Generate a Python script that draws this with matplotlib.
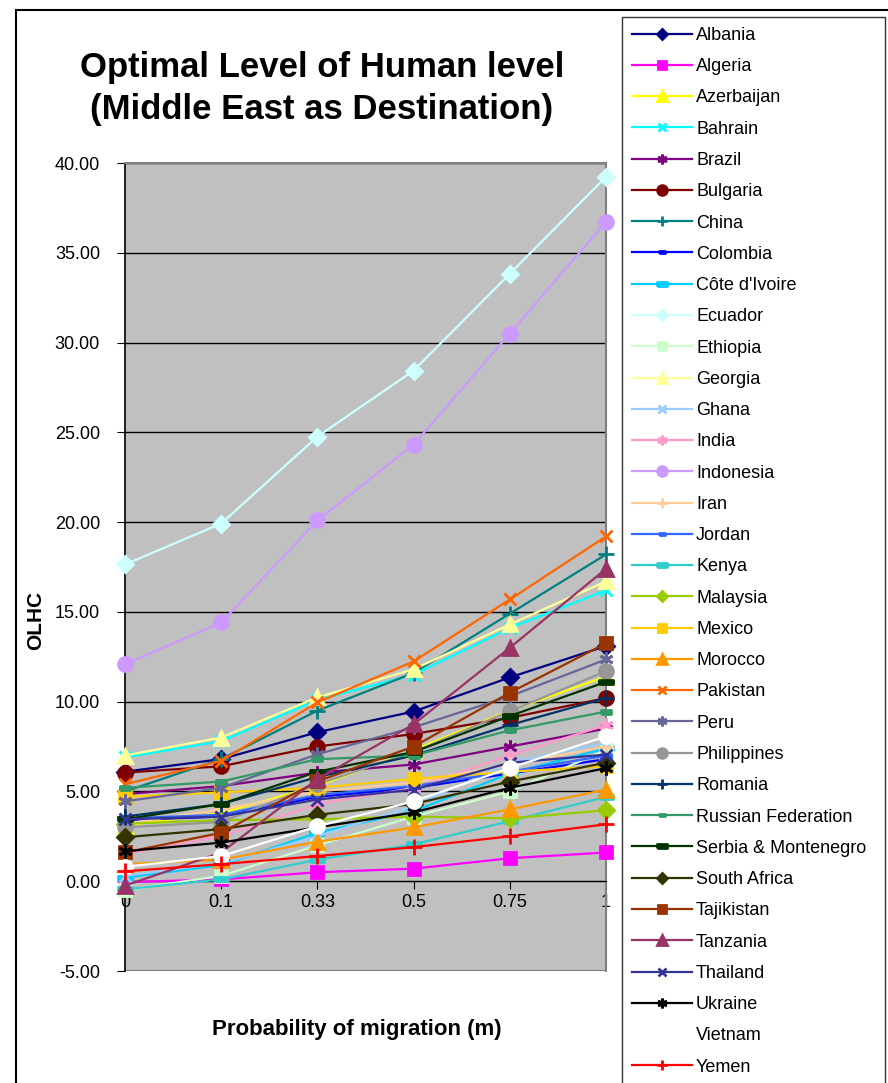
import numpy as np
import matplotlib
matplotlib.use("Agg")
import matplotlib.pyplot as plt
from matplotlib.patches import Rectangle

# # Data
m_labels = ["0", "0.1", "0.33", "0.5", "0.75", "1"]

albania     = [6.10, 6.80, 8.30, 9.45, 11.35, 13.10]
algeria     = [-0.05, 0.10, 0.50, 0.70, 1.28, 1.60]
azerbaijan  = [3.10, 3.80, 5.30, 7.30, 9.50, 11.40]
bahrain     = [6.90, 7.80, 10.10, 11.50, 14.10, 16.20]
brazil      = [4.85, 5.30, 6.05, 6.50, 7.50, 8.50]
bulgaria    = [6.05, 6.40, 7.50, 8.20, 9.10, 10.20]
china       = [5.00, 6.80, 9.50, 11.60, 14.90, 18.20]
colombia    = [3.40, 3.60, 4.70, 5.20, 6.00, 6.80]
cote        = [0.20, 0.90, 2.70, 3.90, 6.00, 7.40]
ecuador     = [17.64, 19.92, 24.76, 28.44, 33.83, 39.23]
ethiopia    = [-0.50, 0.30, 2.00, 3.60, 5.00, 7.30]
georgia     = [7.00, 8.00, 10.24, 11.80, 14.30, 16.70]
ghana       = [0.30, 1.00, 2.50, 4.20, 6.60, 7.70]
india       = [1.50, 2.50, 4.30, 5.20, 7.00, 8.70]
indonesia   = [12.08, 14.41, 20.09, 24.32, 30.50, 36.73]
iran        = [3.20, 4.00, 5.00, 5.50, 6.50, 7.50]
jordan      = [3.50, 3.70, 4.80, 5.30, 6.10, 7.00]
kenya       = [-0.45, 0.10, 1.20, 2.05, 3.35, 4.70]
malaysia    = [3.20, 3.40, 3.45, 3.60, 3.50, 3.95]
mexico      = [4.70, 4.95, 5.20, 5.70, 6.10, 6.40]
morocco     = [0.95, 1.20, 2.20, 3.00, 4.00, 5.10]
pakistan    = [5.40, 6.70, 9.96, 12.24, 15.69, 19.20]
peru        = [4.45, 5.20, 7.07, 8.57, 10.30, 12.35]
philippines = [3.00, 3.30, 5.40, 7.20, 9.46, 11.70]
romania     = [3.60, 4.30, 5.80, 7.00, 8.70, 10.20]
russia      = [5.20, 5.55, 6.80, 7.00, 8.40, 9.45]
serbia      = [3.45, 4.30, 6.10, 7.20, 9.20, 11.10]
s_africa    = [2.45, 2.90, 3.70, 4.30, 5.55, 6.60]
tajikistan  = [1.60, 2.70, 5.56, 7.50, 10.50, 13.25]
tanzania    = [-0.25, 1.60, 5.68, 8.74, 13.00, 17.40]
thailand    = [3.45, 3.60, 4.55, 5.10, 6.60, 7.05]
ukraine     = [1.67, 2.15, 3.00, 3.83, 5.20, 6.30]
vietnam     = [0.80, 1.40, 3.06, 4.45, 6.30, 8.07]
yemen       = [0.55, 0.95, 1.40, 1.90, 2.50, 3.17]

# Excel style markers
asterisk = (6, 2, 0)
short_dash = [(-1, -0.35), (1, -0.35), (1, 0.35), (-1, 0.35), (-1, -0.35)]

# name, values, color, marker, marker size
series = [
    ("Albania", albania, "#000080", "D", 8),
    ("Algeria", algeria, "#FF00FF", "s", 9),
    ("Azerbaijan", azerbaijan, "#FFFF00", "^", 10),
    ("Bahrain", bahrain, "#00FFFF", "x", 9),
    ("Brazil", brazil, "#800080", asterisk, 10),
    ("Bulgaria", bulgaria, "#800000", "o", 10),
    ("China", china, "#008080", "+", 11),
    ("Colombia", colombia, "#0000FF", short_dash, 7),
    ("Côte d'Ivoire", cote, "#00CCFF", short_dash, 10),
    ("Ecuador", ecuador, "#CCFFFF", "D", 8),
    ("Ethiopia", ethiopia, "#CCFFCC", "s", 9),
    ("Georgia", georgia, "#FFFF99", "^", 10),
    ("Ghana", ghana, "#99CCFF", "x", 9),
    ("India", india, "#FF99CC", asterisk, 10),
    ("Indonesia", indonesia, "#CC99FF", "o", 10),
    ("Iran", iran, "#FFCC99", "+", 11),
    ("Jordan", jordan, "#3366FF", short_dash, 7),
    ("Kenya", kenya, "#33CCCC", short_dash, 10),
    ("Malaysia", malaysia, "#99CC00", "D", 8),
    ("Mexico", mexico, "#FFCC00", "s", 9),
    ("Morocco", morocco, "#FF9900", "^", 10),
    ("Pakistan", pakistan, "#FF6600", "x", 9),
    ("Peru", peru, "#666699", asterisk, 10),
    ("Philippines", philippines, "#969696", "o", 10),
    ("Romania", romania, "#003366", "+", 11),
    ("Russian Federation", russia, "#339966", short_dash, 7),
    ("Serbia & Montenegro", serbia, "#003300", short_dash, 10),
    ("South Africa", s_africa, "#333300", "D", 8),
    ("Tajikistan", tajikistan, "#993300", "s", 9),
    ("Tanzania", tanzania, "#993366", "^", 10),
    ("Thailand", thailand, "#333399", "x", 9),
    ("Ukraine", ukraine, "#000000", asterisk, 10),
    ("Vietnam", vietnam, "#FFFFFF", "o", 10),
    ("Yemen", yemen, "#FF0000", "+", 11),
]

plt.rcParams["font.family"] = ["Liberation Sans", "DejaVu Sans"]

fig = plt.figure(figsize=(8.88, 10.83), dpi=100)
ax = fig.add_axes([125 / 888, 1 - 971 / 1083, (606 - 125) / 888, (971 - 163) / 1083])
ax.set_facecolor("#C0C0C0")

x = np.arange(len(m_labels))
for name, vals, col, mk, ms in series:
    ax.plot(x, vals, color=col, lw=1.6, marker=mk, markersize=ms,
            markeredgewidth=2, markerfacecolor=col, markeredgecolor=col,
            label=name, clip_on=False, zorder=3)

# # Axes styling (category axis crosses at y = 0)
ax.spines["bottom"].set_position(("data", 0))
ax.spines["bottom"].set_color("black")
ax.spines["left"].set_color("black")
ax.spines["left"].set_linewidth(1.2)
ax.spines["top"].set_color("#808080")
ax.spines["right"].set_color("#808080")
ax.spines["top"].set_linewidth(1.5)
ax.spines["right"].set_linewidth(1.5)
ax.axhline(-5, color="#808080", lw=1.5)

ax.set_xlim(0, len(m_labels) - 1)
ax.set_ylim(-5, 40)
ax.set_yticks(np.arange(-5, 41, 5))
ax.set_yticklabels(["%.2f" % v for v in np.arange(-5, 41, 5)])
ax.set_xticks(x)
ax.set_xticklabels(m_labels)
ax.yaxis.grid(True, color="black", lw=1)
ax.set_axisbelow(True)
ax.tick_params(axis="y", direction="out", length=6, pad=12, labelsize=13)
ax.tick_params(axis="x", direction="out", length=6, pad=3, labelsize=13)

# # Titles
fig.text(322 / 888, 1 - 68 / 1083, "Optimal Level of Human level", ha="center",
         va="center", fontsize=25, fontweight="bold")
fig.text(322 / 888, 1 - 110 / 1083, "(Middle East as Destination)", ha="center",
         va="center", fontsize=25, fontweight="bold")
fig.text(357 / 888, 1 - 1030 / 1083, "Probability of migration (m)", ha="center",
         va="center", fontsize=16, fontweight="bold")
fig.text(36 / 888, 1 - 620 / 1083, "OLHC", ha="center", va="center",
         rotation=90, fontsize=15, fontweight="bold")

# # Outer chart frame
fig.patches.append(Rectangle((16 / 888, -0.1), 1.0, 1 - 10 / 1083 + 0.1, fill=False,
                             edgecolor="black", lw=1.5, transform=fig.transFigure))

# # Legend
leg = fig.legend(loc="upper left", bbox_to_anchor=(622 / 888, 0, 263 / 888, 1 - 17 / 1083),
                 mode="expand", fontsize=13, handlelength=3.3, handletextpad=0.25,
                 labelspacing=0.79, markerscale=0.7, frameon=True, fancybox=False,
                 borderaxespad=0, borderpad=0.55)
leg.get_frame().set_edgecolor("black")
leg.get_frame().set_linewidth(1)

fig.savefig("out.png", dpi=100)
